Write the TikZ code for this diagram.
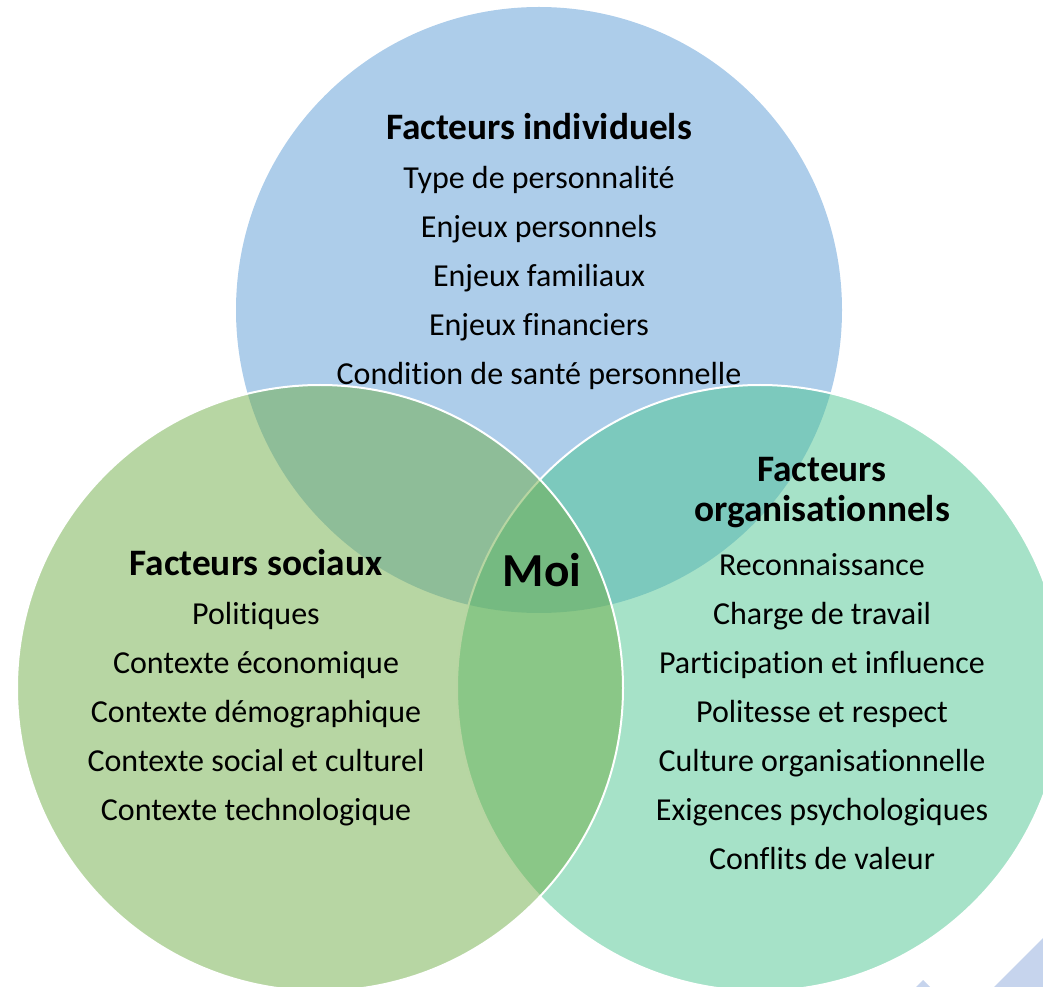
\documentclass[tikz,border=0pt]{standalone}
\usepackage{fontspec}
\setmainfont{Carlito}[Ligatures={NoCommon}]
\usetikzlibrary{positioning}

\definecolor{indiv}{HTML}{5B9BD5}
\definecolor{social}{HTML}{70AD47}
\definecolor{organ}{HTML}{4DC591}
\definecolor{deco}{HTML}{C6D4ED}

\tikzset{
  zone/.style={fill opacity=0.5, draw=white, line width=1.5pt},
  titre/.style={font=\fontsize{28}{30}\selectfont\bfseries, align=center, inner sep=0pt},
  liste/.style={font=\fontsize{24}{36.75}\selectfont, align=center, inner sep=0pt}
}

\begin{document}
\begin{tikzpicture}[x=0.75pt, y=-0.75pt]

\useasboundingbox (0,0) rectangle (1043,987);

\coordinate (I) at (539,310);
\coordinate (S) at (320,688);
\coordinate (O) at (760,688);

\fill[indiv, fill opacity=0.5] (I) circle[radius=227.25pt];
\draw[zone, fill=organ] (O) circle[radius=227.25pt];
\draw[zone, fill=social] (S) circle[radius=227.25pt];

\fill[deco] (994,987) -- (1043,938) -- (1043,987) -- cycle;
\fill[deco] (916,987) -- (923,980) -- (930,987) -- cycle;

\node[titre] (tI) at (539,127) {Facteurs individuels};
\node[liste] (lI) at (539,278) {Type de personnalité\\Enjeux personnels\\Enjeux familiaux\\Enjeux financiers\\Condition de santé personnelle};

\node[titre] (tS) at (256,563) {Facteurs sociaux};
\node[liste] (lS) at (256,714) {Politiques\\Contexte économique\\Contexte démographique\\Contexte social et culturel\\Contexte technologique};

\node[titre] (tO) at (822,493) {Facteurs\\organisationnels};
\node[liste] (lO) at (822,712) {Reconnaissance\\Charge de travail\\Participation et influence\\Politesse et respect\\Culture organisationnelle\\Exigences psychologiques\\Conflits de valeur};

\node[font=\fontsize{35.5}{40}\selectfont\bfseries, inner sep=0pt] (moi) at (542,570) {Moi};

\end{tikzpicture}
\end{document}
